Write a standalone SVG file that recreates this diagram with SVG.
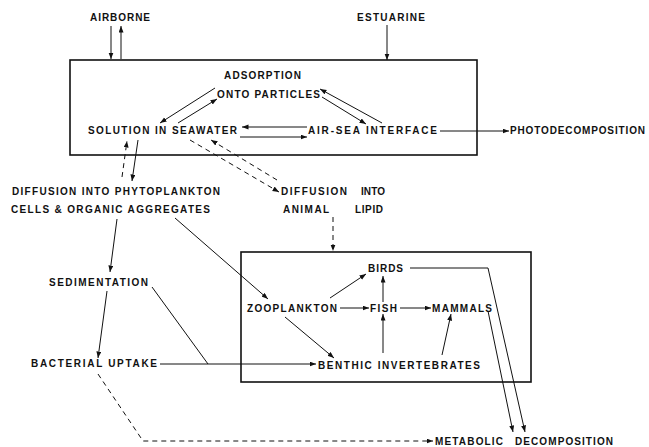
<svg xmlns="http://www.w3.org/2000/svg" width="649" height="447" viewBox="0 0 649 447">
<style>
text{font-family:"Liberation Sans",Arial,sans-serif;font-weight:bold;font-size:10px;fill:#111}
.box{fill:none;stroke:#111;stroke-width:1.6}
.c line,.c polyline{fill:none;stroke:#111;stroke-width:1}
.d{stroke-dasharray:5 4}
</style>
<defs>
<marker id="a" markerUnits="userSpaceOnUse" markerWidth="7" markerHeight="6" refX="6.5" refY="2.5" orient="auto">
<path d="M0,0 L6.5,2.5 L0,5 Z" fill="#111"/>
</marker>
</defs>
<rect width="649" height="447" fill="#fff"/>
<g id="box-water"><rect class="box" x="70" y="60" width="407" height="95"/></g>
<g id="box-biota"><rect class="box" x="241" y="252" width="290" height="130"/></g>
<g id="airborne"><text x="90" y="21" textLength="60" lengthAdjust="spacing">AIRBORNE</text></g>
<g id="estuarine"><text x="357" y="21" textLength="68" lengthAdjust="spacing">ESTUARINE</text></g>
<g id="adsorption"><text x="224" y="79" textLength="77" lengthAdjust="spacing">ADSORPTION</text><text x="217" y="98" textLength="103" lengthAdjust="spacing">ONTO PARTICLES</text></g>
<g id="solution"><text x="88" y="134" textLength="149" lengthAdjust="spacing">SOLUTION IN SEAWATER</text></g>
<g id="airsea"><text x="308" y="134" textLength="129" lengthAdjust="spacing">AIR-SEA INTERFACE</text></g>
<g id="photo"><text x="510" y="134" textLength="135" lengthAdjust="spacing">PHOTODECOMPOSITION</text></g>
<g id="phyto"><text x="12" y="195" textLength="208" lengthAdjust="spacing">DIFFUSION INTO PHYTOPLANKTON</text><text x="11" y="213" textLength="199" lengthAdjust="spacing">CELLS &amp; ORGANIC AGGREGATES</text></g>
<g id="lipid"><text y="195"><tspan x="281" textLength="66" lengthAdjust="spacing">DIFFUSION</tspan> <tspan x="361" textLength="24" lengthAdjust="spacing">INTO</tspan></text><text y="213"><tspan x="283" textLength="46" lengthAdjust="spacing">ANIMAL</tspan> <tspan x="355" textLength="28" lengthAdjust="spacing">LIPID</tspan></text></g>
<g id="sedimentation"><text x="49" y="286" textLength="99" lengthAdjust="spacing">SEDIMENTATION</text></g>
<g id="bacterial"><text x="31" y="367" textLength="126" lengthAdjust="spacing">BACTERIAL UPTAKE</text></g>
<g id="zooplankton"><text x="247" y="312" textLength="90" lengthAdjust="spacing">ZOOPLANKTON</text></g>
<g id="fish"><text x="370" y="312" textLength="27" lengthAdjust="spacing">FISH</text></g>
<g id="mammals"><text x="432" y="312" textLength="60" lengthAdjust="spacing">MAMMALS</text></g>
<g id="birds"><text x="368" y="272" textLength="35" lengthAdjust="spacing">BIRDS</text></g>
<g id="benthic"><text x="318" y="369" textLength="162" lengthAdjust="spacing">BENTHIC INVERTEBRATES</text></g>
<g id="metabolic"><text y="445"><tspan x="435" textLength="68" lengthAdjust="spacing">METABOLIC</tspan> <tspan x="515" textLength="98" lengthAdjust="spacing">DECOMPOSITION</tspan></text></g>
<g id="connectors" class="c">
<line x1="111" y1="26" x2="111" y2="59" marker-end="url(#a)"/>
<line x1="121" y1="59" x2="121" y2="26" marker-end="url(#a)"/>
<line x1="387" y1="25" x2="387" y2="60" marker-end="url(#a)"/>
<line x1="215" y1="88" x2="160" y2="123" marker-end="url(#a)"/>
<line x1="178" y1="123" x2="217" y2="99" marker-end="url(#a)"/>
<line x1="382" y1="123" x2="320" y2="89" marker-end="url(#a)"/>
<line x1="322" y1="97" x2="366" y2="124" marker-end="url(#a)"/>
<line x1="307" y1="127" x2="242" y2="127" marker-end="url(#a)"/>
<line x1="240" y1="137" x2="307" y2="137" marker-end="url(#a)"/>
<line x1="440" y1="131" x2="509" y2="131" marker-end="url(#a)"/>
<line class="d" x1="122" y1="177" x2="127" y2="141" marker-end="url(#a)"/>
<line x1="138" y1="140" x2="132" y2="181" marker-end="url(#a)"/>
<line class="d" x1="190" y1="140" x2="279" y2="192" marker-end="url(#a)"/>
<line class="d" x1="277" y1="180" x2="211" y2="140" marker-end="url(#a)"/>
<line class="d" x1="333" y1="217" x2="333" y2="251" marker-end="url(#a)"/>
<line x1="117" y1="219" x2="110" y2="272" marker-end="url(#a)"/>
<line x1="107" y1="291" x2="98" y2="358" marker-end="url(#a)"/>
<line x1="175" y1="218" x2="268" y2="299" marker-end="url(#a)"/>
<line x1="160" y1="364" x2="316" y2="364" marker-end="url(#a)"/>
<line x1="152" y1="287" x2="208" y2="364"/>
<line x1="340" y1="308" x2="369" y2="308" marker-end="url(#a)"/>
<line x1="400" y1="308" x2="431" y2="308" marker-end="url(#a)"/>
<line x1="330" y1="298" x2="366" y2="274" marker-end="url(#a)"/>
<line x1="383" y1="302" x2="383" y2="276" marker-end="url(#a)"/>
<line x1="383" y1="353" x2="383" y2="314" marker-end="url(#a)"/>
<line x1="442" y1="355" x2="451" y2="314" marker-end="url(#a)"/>
<line x1="285" y1="317" x2="334" y2="358" marker-end="url(#a)"/>
<polyline points="410,268 488,268 525,432" marker-end="url(#a)"/>
<line x1="488" y1="311" x2="513" y2="432" marker-end="url(#a)"/>
<polyline class="d" points="98,374 143,441 433,441" marker-end="url(#a)"/>
</g>
</svg>
